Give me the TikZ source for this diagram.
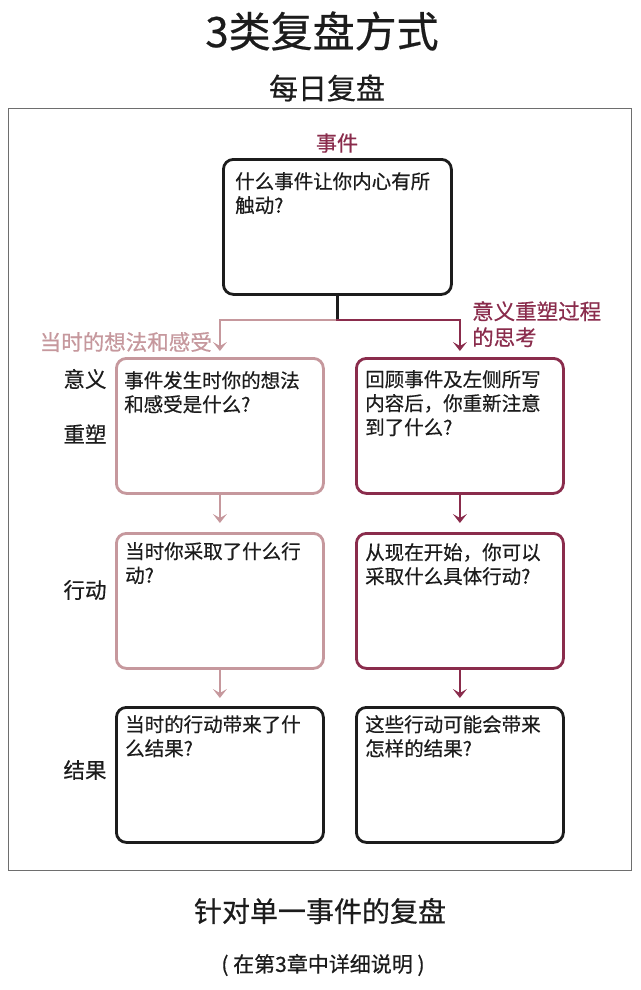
\documentclass[tikz,border=0pt]{standalone}
\usepackage{fontspec}
\setmainfont{Noto Sans CJK SC}[FakeBold=0.5]
\usetikzlibrary{arrows.meta}
\definecolor{rose}{RGB}{198,152,157}
\definecolor{wine}{RGB}{138,44,76}
\definecolor{ink}{RGB}{28,28,28}
\definecolor{framegray}{RGB}{110,110,110}
\begin{document}
\begin{tikzpicture}[x=1pt,y=-1pt,
  qbox/.style={draw, line width=2.8pt, rounded corners=10pt, inner sep=0pt,
    anchor=north west, minimum width=#1, minimum height=135pt},
  qtext/.style={anchor=north west, align=left, inner sep=0pt,
    font=\fontsize{19.5}{24}\selectfont, text=ink},
  rowlabel/.style={inner sep=0pt, font=\fontsize{21.5}{26}\selectfont, text=ink},
  conn/.style={line width=2.8pt},
  tip/.style={-{Stealth[length=9pt,width=14pt,inset=4pt]}},
]
\useasboundingbox (0,0) rectangle (640,990);
\fill[white] (0,0) rectangle (640,990);

% titles
\node[inner sep=0pt, font=\fontsize{42}{48}\selectfont, text=ink] (title) at (322,31) {3类复盘方式};
\node[inner sep=0pt, font=\fontsize{29}{34}\selectfont, text=ink] (daily) at (327,88) {每日复盘};

% frame
\node[draw=framegray, line width=1.3pt, inner sep=0pt, anchor=north west,
  minimum width=623pt, minimum height=762pt] (frame) at (8,108) {};

% event
\node[inner sep=0pt, font=\fontsize{21}{26}\selectfont, text=wine] (evlabel) at (337,143) {事件};
\node[qbox=228pt, draw=ink] (ev) at (222,158) {};
\node[qtext] (evt) at (235,172) {什么事件让你内心有所\\触动?};

% left column
\node[qbox=207pt, draw=rose] (l1) at (115,357) {};
\node[qbox=207pt, draw=rose] (l2) at (115,532) {};
\node[qbox=207pt, draw=ink]  (l3) at (115,706) {};
% right column
\node[qbox=207pt, draw=wine] (r1) at (355,357) {};
\node[qbox=207pt, draw=wine] (r2) at (355,532) {};
\node[qbox=207pt, draw=ink]  (r3) at (355,706) {};

\node[qtext] (l1t) at (124,371) {事件发生时你的想法\\和感受是什么?};
\node[qtext] (l2t) at (125,542) {当时你采取了什么行\\动?};
\node[qtext] (l3t) at (125,715) {当时的行动带来了什\\么结果?};
\node[qtext] (r1t) at (365,370) {回顾事件及左侧所写\\内容后，你重新注意\\到了什么?};
\node[qtext] (r2t) at (365,543) {从现在开始，你可以\\采取什么具体行动?};
\node[qtext] (r3t) at (365,715) {这些行动可能会带来\\怎样的结果?};

% row labels
\node[rowlabel] (m1) at (85,379) {意义};
\node[rowlabel] (m2) at (85,434) {重塑};
\node[rowlabel] (act) at (85,590) {行动};
\node[rowlabel] (res) at (85,770) {结果};

% branch labels
\node[inner sep=0pt, anchor=east, font=\fontsize{21.5}{26}\selectfont, text=rose] (leftlab) at (212,342) {当时的想法和感受};
\node[inner sep=0pt, anchor=north west, align=left, font=\fontsize{21.5}{26}\selectfont, text=wine] (rightlab) at (472,301) {意义重塑过程\\的思考};

% connectors
\coordinate (split) at (ev.south |- 0,320);
\draw[conn, draw=ink] (ev.south) -- (split);
\draw[conn, draw=rose, tip, shorten >=6pt] ([xshift=1.4pt]split) -| (l1.north);
\draw[conn, draw=wine, tip, shorten >=6pt] ([xshift=-1.4pt]split) -| (r1.north);

\draw[conn, draw=rose, tip, shorten >=9pt] (l1.south) -- (l2.north);
\draw[conn, draw=rose, tip, shorten >=8pt] (l2.south) -- (l3.north);
\draw[conn, draw=wine, tip, shorten >=9pt] (r1.south) -- (r2.north);
\draw[conn, draw=wine, tip, shorten >=8pt] (r2.south) -- (r3.north);

% bottom captions
\node[inner sep=0pt, font=\fontsize{28}{33}\selectfont, text=ink] (cap) at (320,911) {针对单一事件的复盘};
\node[inner sep=0pt, font=\fontsize{21}{26}\selectfont, text=ink] (note) at (323,965) {( 在第3章中详细说明 )};
\end{tikzpicture}
\end{document}
